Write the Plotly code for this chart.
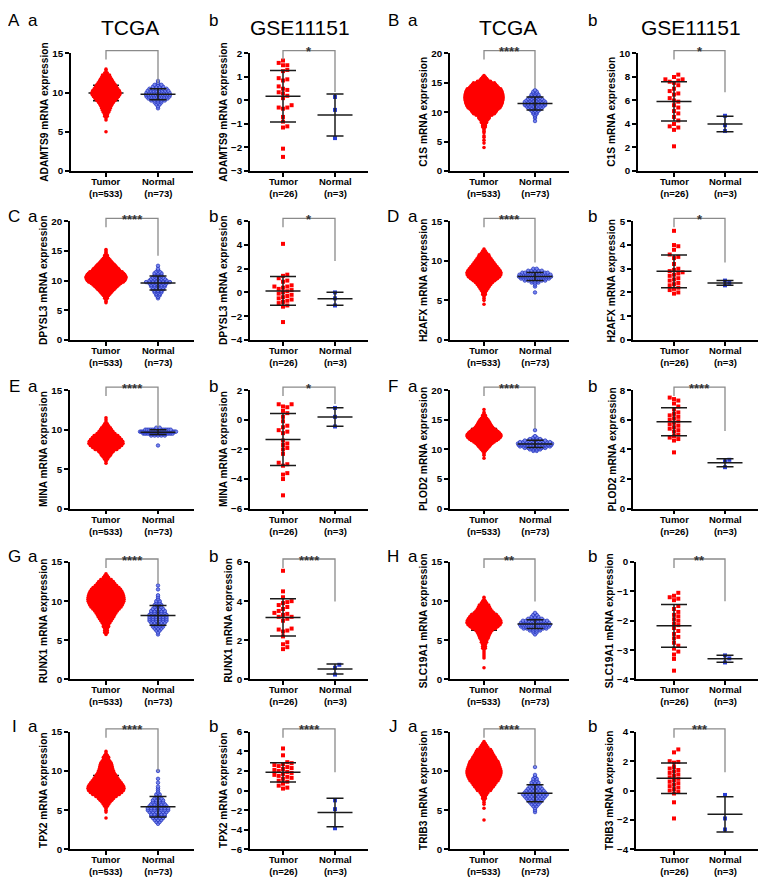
import numpy as np
import plotly.graph_objects as go

# page has an 8px body margin: figure is placed at (8, 8)
OX, OY = 8, 8
FW, FH = 751, 870
FONT = "Liberation Sans, Arial, sans-serif"

# ---------------- data ----------------
genes = ["ADAMTS9", "C1S", "DPYSL3", "H2AFX", "MINA", "PLOD2", "RUNX1", "SLC19A1", "TPX2", "TRIB3"]
letters = ["A", "B", "C", "D", "E", "F", "G", "H", "I", "J"]
categories = ["Tumor", "Normal"]
n_tcga = [533, 73]
n_gse = [26, 3]
sig_tcga = ["", "****", "****", "****", "****", "****", "****", "**", "****", "****"]
sig_gse = ["*", "*", "*", "*", "*", "****", "****", "**", "****", "***"]

# TCGA: values binned at 0.25 (start value of first bin + counts per bin)
BIN = 0.25
tcga_tumor_lo = [5.0, 4.0, 6.25, 4.5, 5.75, 8.5, 5.75, 1.5, 4.0, 3.75]
tcga_tumor_counts = [
    [1,0,0,0,0,0,1,1,2,2,3,4,6,8,12,18,28,40,52,63,65,59,46,36,28,20,14,10,6,4,2,1,1],
    [1,0,0,1,0,1,0,1,1,0,1,1,1,1,2,2,2,3,3,4,5,5,7,9,11,13,16,21,23,25,27,28,29,30,30,30,29,28,27,25,23,17,14,11,9,6,4,3,2,1],
    [1,1,1,2,2,3,4,5,6,8,11,15,20,26,36,42,46,48,46,42,37,31,22,19,14,11,8,6,5,4,3,2,2,1,1,1,1],
    [1,0,1,1,1,2,2,3,4,6,10,16,26,40,54,62,64,58,48,38,29,22,16,11,7,5,3,2,1],
    [1,1,2,3,5,8,14,31,47,65,77,75,63,49,37,21,13,8,5,3,2,1,1,1],
    [1,0,1,1,1,2,3,4,6,9,14,22,34,46,56,62,60,52,42,32,22,16,12,9,7,5,4,3,2,2,1,1,0,1],
    [1,2,2,2,3,3,4,5,6,8,10,13,17,23,30,35,39,42,43,42,40,37,33,28,22,15,10,7,5,3,2,1],
    [1,0,0,0,0,1,1,1,1,1,2,2,2,3,3,4,5,7,10,15,31,45,59,67,65,57,47,37,22,15,10,7,5,3,2,1,1],
    [1,0,0,1,1,1,2,3,4,6,10,18,31,43,53,57,55,49,41,33,26,20,16,12,10,8,7,6,5,4,3,3,2,1,1],
    [1,0,0,0,0,0,1,0,1,1,1,2,2,3,4,6,8,12,16,20,27,31,35,38,40,40,38,35,32,29,26,20,17,13,10,8,6,4,3,2,1],
]
tcga_normal_lo = [8.0, 8.5, 7.0, 6.0, 8.0, 9.75, 5.75, 5.75, 3.25, 4.75]
tcga_normal_counts = [
    [1,1,2,3,5,7,10,11,10,8,6,4,3,1,1],
    [1,0,1,1,1,2,2,3,4,5,6,7,7,7,6,5,4,3,3,2,2,1],
    [1,1,2,2,3,3,4,4,5,5,6,8,6,5,4,3,3,3,2,1,1,0,1],
    [1,0,0,1,1,3,7,12,16,15,10,5,2],
    [1,0,0,0,0,5,20,30,15,2],
    [2,4,7,10,12,13,10,7,4,2,1,0,0,0,1],
    [1,1,2,3,4,4,5,6,6,6,6,5,5,4,3,3,2,2,1,1,1,0,0,1,0,1],
    [1,2,4,8,12,14,12,9,5,3,2,1],
    [1,2,3,4,5,5,6,7,7,6,5,4,4,3,2,2,1,1,1,1,0,1,0,1,0,0,0,1],
    [1,1,1,2,3,4,5,6,7,8,7,6,5,4,3,3,2,2,1,1,0,0,0,1],
]

# GSE11151 individual values
gse_tumor = [
    [1.7,1.6,1.5,1.5,1.3,1.25,0.95,0.9,0.85,0.6,0.5,0.45,0.3,0.2,0.1,-0.2,-0.3,-0.35,-0.3,-0.7,-0.9,-1.1,-1.15,-2.05,-2.4,0.35],
    [8.2,8.0,7.8,7.8,7.7,7.6,7.5,7.3,7.0,6.8,6.6,6.5,6.2,6.0,5.9,5.6,5.4,5.1,4.9,4.6,4.3,4.0,3.8,3.7,3.5,2.1],
    [4.1,1.5,1.4,1.2,1.0,0.9,0.6,0.5,0.5,0.4,0.3,0.2,0.1,0.0,-0.1,-0.2,-0.3,-0.4,-0.5,-0.6,-0.7,-0.8,-0.9,-1.1,-1.2,-2.5],
    [4.6,4.0,3.95,3.8,3.6,3.5,3.45,3.2,3.0,2.95,2.9,2.85,2.8,2.75,2.7,2.6,2.55,2.5,2.4,2.35,2.3,2.2,2.15,2.1,2.0,1.95],
    [1.05,1.05,0.9,0.85,0.6,0.45,0.2,-0.1,-0.4,-0.5,-0.7,-0.8,-0.9,-1.4,-1.6,-1.7,-1.9,-2.0,-2.3,-2.9,-3.0,-3.1,-3.6,-3.7,-4.0,-5.1],
    [7.5,7.4,7.3,7.1,6.9,6.7,6.5,6.4,6.3,6.2,6.1,6.0,5.9,5.8,5.7,5.6,5.5,5.4,5.3,5.2,5.0,4.9,4.8,4.7,4.6,3.8],
    [5.55,4.5,4.2,4.0,3.95,3.9,3.8,3.7,3.6,3.5,3.4,3.35,3.2,3.1,3.3,3.2,3.0,2.6,2.55,2.5,2.45,2.2,1.9,1.8,1.65,1.55],
    [-1.05,-1.15,-1.2,-1.25,-1.3,-1.5,-1.6,-1.7,-1.8,-1.85,-1.95,-2.0,-2.1,-2.15,-2.25,-2.35,-2.45,-2.55,-2.6,-2.75,-2.85,-2.95,-3.05,-3.15,-3.3,-3.7],
    [4.3,3.6,2.9,2.8,2.7,2.6,2.5,2.4,2.3,2.2,2.1,2.0,1.9,1.8,1.7,1.6,1.5,1.4,1.3,1.2,1.0,0.9,0.7,0.5,0.3,0.2],
    [2.8,2.6,2.0,1.95,1.9,1.6,1.5,1.4,1.3,1.2,1.1,1.0,0.9,0.8,0.7,0.6,0.5,0.4,0.3,0.2,0.1,0.0,-0.1,-0.2,-0.8,-1.9],
]
gse_normal = [
    [0.15,-0.4,-1.6], [4.7,3.9,3.4], [0.0,-0.5,-1.1], [2.5,2.4,2.3], [0.8,0.2,-0.45],
    [3.3,3.2,2.8], [0.75,0.6,0.25], [-3.18,-3.28,-3.42], [-1.0,-1.9,-3.85], [-0.3,-1.9,-2.65],
]

# axis settings
tcga_yrange = [(0,15),(0,20),(0,20),(0,15),(0,15),(0,20),(0,15),(0,15),(0,15),(0,15)]
tcga_dtick = [5]*10
gse_yrange = [(-3,2),(0,10),(-4,6),(0,5),(-6,2),(0,8),(0,6),(-4,0),(-6,6),(-4,4)]
gse_dtick = [1,2,2,1,2,2,2,1,2,2]
# end of the right bracket leg (data units)
tcga_leg_end = [11.2, 14.1, 14.2, 9.8, 10.25, 13.5, 12.2, 9.96, 9.96, 10.6]
gse_leg_end = [0.36, 6.7, 2.65, 3.26, 1.06, 5.25, 3.98, -1.34, 1.87, 1.25]

# ---------------- layout geometry (screen pixels) ----------------
row_top = [48, 218, 389, 563, 735]
row_bot = [167, 338, 509, 682, 854]
tumor_px = [106, 283, 484, 674]
normal_px = [158, 335, 535, 725]
tcga_axis_px = [71, 450, 70, 450, 70, 450, 70, 450, 70, 450]
gse_axis_px = [250, 638, 250, 633, 250, 633, 250, 636, 250, 636]
tcga_tumor_halfw = [14, 19, 20, 17, 17, 17, 18, 17, 18, 17]
tcga_normal_halfw = [12, 17, 18, 16, 18, 17, 16, 15, 15, 17]
letter_y = [15, 213, 385, 557, 730]
big_letter_x = [14, 393]
small_a_x = [33, 413]
small_b_x = [213, 592]
TICK_SIZE = 9.8

RED = "#ff0000"
BLUE = "#2b3fd6"


def fx(p):
    return (p - OX) / FW


def fy(p):
    return 1 - (p - OY) / FH


fig = go.Figure()
layout = {}
shapes = []
annotations = []


def ann(x, y, text, size, bold=False, angle=0, xanchor="center", yanchor="middle", color="black"):
    annotations.append(dict(
        x=fx(x), y=fy(y), xref="paper", yref="paper", text=text, showarrow=False,
        textangle=angle, xanchor=xanchor, yanchor=yanchor,
        font=dict(family=FONT, size=size, color=color, weight="bold" if bold else "normal")))


k = 0
for r in range(5):
    for half in range(2):
        g = 2 * r + half
        li = half
        ann(big_letter_x[li], letter_y[r], letters[g], 17)
        ann(small_a_x[li], letter_y[r], "a", 17)
        ann(small_b_x[li], letter_y[r], "b", 17)
        for ds in range(2):
            k += 1
            col = half * 2 + ds
            top, bot = row_top[r], row_bot[r]
            t_px, n_px = tumor_px[col], normal_px[col]
            axis_px = tcga_axis_px[g] if ds == 0 else gse_axis_px[g]
            right_px = min(n_px + (t_px - axis_px), OX + FW - 1)
            unit = n_px - t_px
            xr = [(axis_px - t_px) / unit, (right_px - t_px) / unit]
            y0, y1 = (tcga_yrange if ds == 0 else gse_yrange)[g]
            dt = (tcga_dtick if ds == 0 else gse_dtick)[g]
            tick_labels = [str(v) for v in range(y0, y1 + 1, dt)]
            label_w = max(len(s) for s in tick_labels) * 0.56 * TICK_SIZE
            title_px = axis_px - (4 + 3 + label_w + 3 + 5.5)

            def py(v, y0=y0, y1=y1, top=top, bot=bot):
                return bot - (v - y0) / (y1 - y0) * (bot - top)

            xa, ya = f"x{k}", f"y{k}"
            nlab = n_tcga if ds == 0 else n_gse
            layout[f"xaxis{k}"] = dict(
                domain=[fx(axis_px), fx(right_px)], range=xr, anchor=ya,
                tickvals=[0, 1], showticklabels=False, showline=True, linecolor="black",
                linewidth=1.6, ticks="outside", ticklen=4, tickwidth=1.5, tickcolor="black",
                showgrid=False, zeroline=False, fixedrange=True)
            layout[f"yaxis{k}"] = dict(
                domain=[fy(bot), fy(top)], range=[y0, y1], anchor=xa,
                tick0=y0, dtick=dt, showline=True, linecolor="black", linewidth=1.6,
                ticks="outside", ticklen=4, tickwidth=1.5, tickcolor="black",
                showgrid=False, zeroline=False, fixedrange=True,
                tickfont=dict(family=FONT, size=TICK_SIZE, color="black", weight="bold"))

            # category labels
            for i, cpx in enumerate([t_px, n_px]):
                ann(cpx, bot + 3, f"{categories[i]}<br>(n={nlab[i]})", 9.5, bold=True, yanchor="top")
            # y title
            ann(title_px, (top + bot) / 2, f"{genes[g]} mRNA expression", 10.2, bold=True, angle=-90)
            # dataset title (first row)
            if r == 0:
                ann((t_px + n_px) / 2 + (-2 if ds == 0 else -9), 22,
                    "TCGA" if ds == 0 else "GSE11151", 21)

            if ds == 0:
                groups = []
                for gi, (lo, counts, hw) in enumerate([
                        (tcga_tumor_lo[g], tcga_tumor_counts[g], tcga_tumor_halfw[g]),
                        (tcga_normal_lo[g], tcga_normal_counts[g], tcga_normal_halfw[g])]):
                    counts = np.array(counts)
                    centers = lo + BIN * np.arange(len(counts))
                    vals = np.repeat(centers, counts)
                    nmax = counts.max()
                    spacing = 2.6 if gi == 0 else 3.4
                    xs, ys = [], []
                    for c, v in zip(counts, centers):
                        if c == 0:
                            continue
                        width = min((c - 1) * spacing, 2 * hw * np.sqrt(c / nmax))
                        for j in range(c):
                            off = 0.0 if c == 1 else -width / 2 + j * width / (c - 1)
                            xs.append(gi + off / unit)
                            ys.append(v)
                    groups.append((xs, ys, vals))
                xs, ys, _ = groups[1]
                fig.add_trace(go.Scatter(x=xs, y=ys, xaxis=xa, yaxis=ya, mode="markers",
                                         marker=dict(size=3.5, color="#7786f0", line=dict(color="#1c2db8", width=0.7)),
                                         cliponaxis=False, hoverinfo="skip"))
                all_vals = [groups[0][2], groups[1][2]]
            else:
                tv = np.array(gse_tumor[g])
                nv = np.array(gse_normal[g])
                all_vals = [tv, nv]

            # error bars (mean +/- SD)
            ex, ey = [], []
            for gi, vals in enumerate(all_vals):
                m = float(np.mean(vals))
                s = float(np.std(vals, ddof=1))
                hm = 17.5 / unit
                hwk = (13 if gi == 0 else 8.5) / unit
                ex += [gi - hm, gi + hm, None, gi - hwk, gi + hwk, None, gi - hwk, gi + hwk, None, gi, gi, None]
                ey += [m, m, None, m + s, m + s, None, m - s, m - s, None, m - s, m + s, None]
            errtrace = go.Scatter(x=ex, y=ey, xaxis=xa, yaxis=ya, mode="lines",
                                  line=dict(color="#1a1a1a", width=1.5), cliponaxis=False, hoverinfo="skip")

            if ds == 0:
                fig.add_trace(errtrace)
                xs, ys, _ = groups[0]
                fig.add_trace(go.Scatter(x=xs, y=ys, xaxis=xa, yaxis=ya, mode="markers",
                                         marker=dict(size=3.6, color=RED), cliponaxis=False, hoverinfo="skip"))
            else:
                for gi, vals in enumerate([tv, nv]):
                    d = 4.3
                    placed = []
                    xs = np.zeros(len(vals))
                    for idx in np.argsort(vals):
                        yp = py(vals[idx])
                        off = 0.0
                        for kk in range(60):
                            off = 0.0 if kk == 0 else ((kk + 1) // 2) * d * (1 if kk % 2 else -1)
                            if all((off - a) ** 2 + (yp - b) ** 2 >= d * d for a, b in placed):
                                break
                        placed.append((off, yp))
                        xs[idx] = gi + off / unit
                    fig.add_trace(go.Scatter(x=xs, y=vals, xaxis=xa, yaxis=ya, mode="markers",
                                             marker=dict(size=4, symbol="square",
                                                         color=RED if gi == 0 else BLUE),
                                             cliponaxis=False, hoverinfo="skip"))
                fig.add_trace(errtrace)

            # significance bracket
            ytop = top - 3
            yl = ytop + 9
            leg = (tcga_leg_end if ds == 0 else gse_leg_end)[g]
            yr = py(leg)
            path = (f"M {fx(t_px)},{fy(yl)} L {fx(t_px)},{fy(ytop)} "
                    f"L {fx(n_px)},{fy(ytop)} L {fx(n_px)},{fy(yr)}")
            shapes.append(dict(type="path", path=path, xref="paper", yref="paper",
                               line=dict(color="#8a8a8a", width=1.3)))
            star = (sig_tcga if ds == 0 else sig_gse)[g]
            if star:
                ann((t_px + n_px) / 2, ytop + 1, star, 13, bold=True, color="#333333")

fig.update_layout(**layout)
fig.update_layout(width=FW, height=FH, margin=dict(l=0, r=0, t=0, b=0),
                  paper_bgcolor="white", plot_bgcolor="white", showlegend=False,
                  shapes=shapes, annotations=annotations)
fig.write_html("out.html")
